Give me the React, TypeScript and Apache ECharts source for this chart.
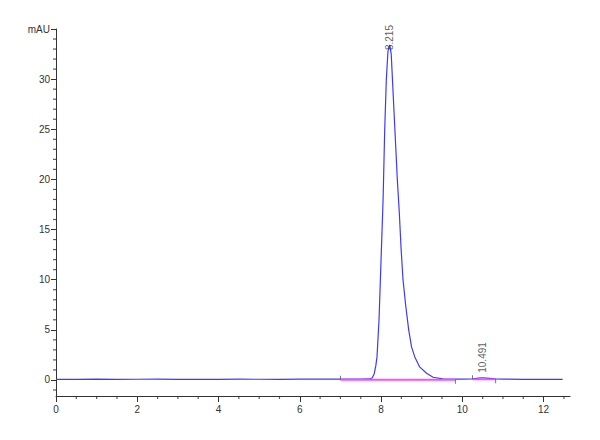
import { useEffect, useRef } from 'react'
import * as echarts from 'echarts'

// retention time (min) and absorbance (mAU) of the trace
const traceTime = [
  0, 0.5, 1, 1.5, 2, 2.5, 3, 3.5, 4, 4.5, 5, 5.5, 6, 6.5, 7, 7.5, 7.7, 7.78, 7.83, 7.87,
  7.9, 7.95, 8.0, 8.05, 8.09, 8.13, 8.17, 8.215, 8.25, 8.28, 8.34, 8.4, 8.45, 8.49, 8.54,
  8.61, 8.68, 8.75, 8.83, 8.95, 9.12, 9.28, 9.52, 9.8, 10.0, 10.25, 10.4, 10.49, 10.6,
  10.82, 11.0, 11.5, 12.0, 12.47
]
const traceValue = [
  0.05, 0.06, 0.08, 0.06, 0.07, 0.09, 0.06, 0.07, 0.06, 0.08, 0.07, 0.06, 0.08, 0.09, 0.08,
  0.08, 0.1, 0.2, 0.6, 1.4, 2.3, 6, 12, 18, 25, 30, 32.8, 33.4, 32.5, 30, 25, 20, 16.6,
  13.3, 10, 7.3, 5, 3.3, 2.3, 1.3, 0.67, 0.27, 0.1, 0.08, 0.08, 0.1, 0.18, 0.22, 0.18,
  0.1, 0.08, 0.06, 0.07, 0.05
]

// integration baselines: [start, end] in min
const baselineStart = [7.0, 10.25]
const baselineEnd = [9.83, 10.82]
const baselineLevel = [0.02, 0.06]

// labelled peaks
const peakTime = [8.215, 10.491]
const peakHeight = [33.4, 0.22]
const peakLabel = ['8.215', '10.491']

const xMajor = [0, 2, 4, 6, 8, 10, 12]
const yMajor = [0, 5, 10, 15, 20, 25, 30, 35]

const xMinor: number[] = []
for (let v = 0.5; v <= 12.5; v += 0.5) if (v % 2 !== 0) xMinor.push(v)
const yMinor: number[] = []
for (let v = -1; v < 35; v += 1) if (v % 5 !== 0) yMinor.push(v)

const X_MAX = 12.65
const Y_MIN = -1.6
const Y_MAX = 35

export default function App() {
  const chartRef = useRef<HTMLDivElement>(null)

  useEffect(() => {
    const host = chartRef.current
    if (!host) return
    const chart = echarts.init(host, null, { renderer: 'svg' })

    const axisColor = '#333'
    const font = { fontFamily: 'Liberation Sans', fontSize: 10, color: '#333' }

    const series: echarts.SeriesOption[] = [
      {
        type: 'line',
        data: traceTime.map((t, i) => [t, traceValue[i]]),
        showSymbol: false,
        lineStyle: { color: '#3b3bff', width: 1.2 },
        z: 2
      }
    ]
    baselineStart.forEach((s, i) => {
      series.push({
        type: 'line',
        data: [
          [s, baselineLevel[i]],
          [baselineEnd[i], baselineLevel[i]]
        ],
        showSymbol: false,
        lineStyle: { color: '#ff4cff', width: 1.8 },
        z: 3
      })
    })
    // small marks at the baseline ends
    series.push({
      type: 'scatter',
      data: baselineStart.map((s, i) => [s, baselineLevel[i]]),
      symbol: 'rect',
      symbolSize: [1, 4],
      symbolOffset: [0, -2],
      itemStyle: { color: '#555' },
      z: 4
    })
    series.push({
      type: 'scatter',
      data: baselineEnd.map((e, i) => [e, baselineLevel[i]]),
      symbol: 'rect',
      symbolSize: [1, 4],
      symbolOffset: [0, 2],
      itemStyle: { color: '#555' },
      z: 4
    })
    series.push({
      type: 'scatter',
      data: peakTime.map((t, i) => ({
        value: [t, peakHeight[i]],
        label: { formatter: peakLabel[i], distance: i === 0 ? -5 : 5 }
      })),
      symbolSize: 0,
      label: {
        show: true,
        position: 'top',
        rotate: 90,
        align: 'left',
        verticalAlign: 'middle',
        ...font
      },
      z: 5
    })
    // minor ticks, placed on the axes through the chart's own scales
    series.push({
      type: 'scatter',
      data: xMinor.map((v) => [v, Y_MIN]),
      symbol: 'rect',
      symbolSize: [1.2, 3],
      symbolOffset: [0, 1.5],
      itemStyle: { color: axisColor },
      clip: false,
      silent: true,
      z: 6
    })
    series.push({
      type: 'scatter',
      data: yMinor.map((v) => [0, v]),
      symbol: 'rect',
      symbolSize: [3, 1.2],
      symbolOffset: [-1.5, 0],
      itemStyle: { color: axisColor },
      clip: false,
      silent: true,
      z: 6
    })

    const axisLine = { show: true, onZero: false, lineStyle: { color: axisColor, width: 1 } }

    chart.setOption({
      animation: false,
      backgroundColor: '#fff',
      grid: { left: 56, right: 30, top: 29, bottom: 44 },
      xAxis: {
        type: 'value',
        min: 0,
        max: X_MAX,
        position: 'bottom',
        axisLine,
        axisTick: { show: true, customValues: xMajor, length: 6, lineStyle: { color: axisColor } },
        axisLabel: { customValues: xMajor, margin: 8, ...font },
        splitLine: { show: false }
      },
      yAxis: {
        type: 'value',
        min: Y_MIN,
        max: Y_MAX,
        position: 'left',
        axisLine,
        axisTick: { show: true, customValues: yMajor, length: 5, lineStyle: { color: axisColor } },
        axisLabel: {
          customValues: yMajor,
          margin: 6,
          formatter: (v: number) => (v === 35 ? 'mAU' : String(v)),
          ...font
        },
        splitLine: { show: false }
      },
      series
    })

    return () => {
      chart.dispose()
    }
  }, [])

  return (
    <div
      ref={chartRef}
      style={{ position: 'fixed', left: 0, top: 0, width: 600, height: 440 }}
    />
  )
}
